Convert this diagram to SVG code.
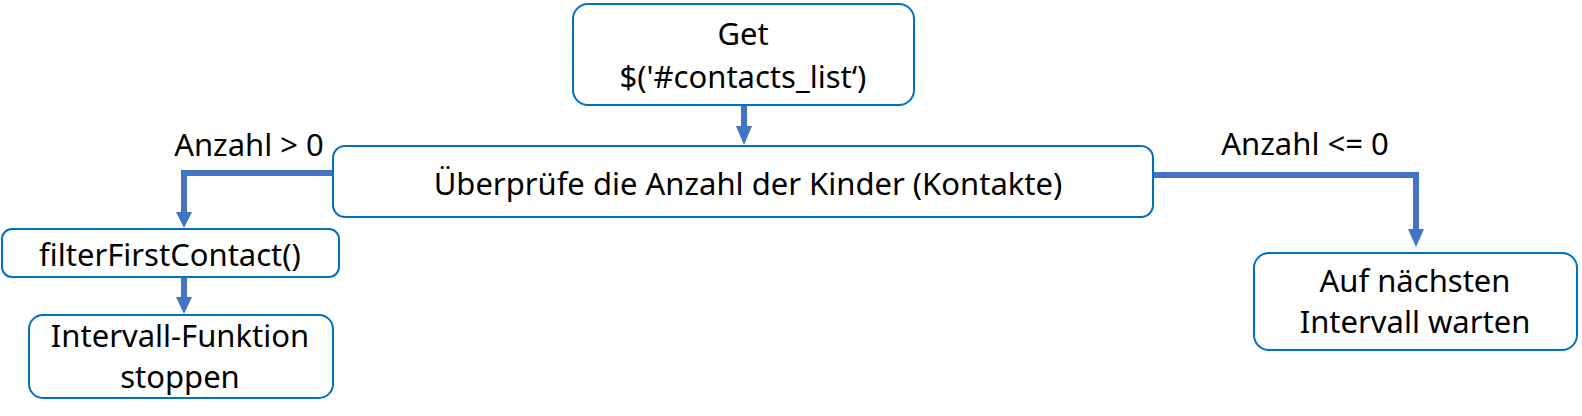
<svg xmlns="http://www.w3.org/2000/svg" width="1582" height="416" viewBox="0 0 1582 416">
<style>
.box{fill:#fff;stroke:#0070C0;stroke-width:2}
.t{font-family:"Noto Sans","Open Sans","DejaVu Sans",sans-serif;font-size:31px;fill:#000;text-anchor:middle}
.c{fill:none;stroke:#4472C4;stroke-width:6}
.h{fill:#4472C4}
</style>
<rect width="1582" height="416" fill="#fff"/>
<g id="connectors">
<path class="c" d="M744,105 V127"/>
<polygon class="h" points="736,126 752,126 744,145"/>
<path class="c" d="M333,173 H184 V213"/>
<polygon class="h" points="176,212 192,212 184,228"/>
<path class="c" d="M184,278 V298"/>
<polygon class="h" points="176,297 192,297 184,314"/>
<path class="c" d="M1153,175 H1416 V230"/>
<polygon class="h" points="1408,229 1424,229 1416,247"/>
<text class="t" x="249" y="156">Anzahl &gt; 0</text>
<text class="t" x="1305" y="155">Anzahl &lt;= 0</text>
</g>
<g id="n-get">
<rect class="box" x="573" y="4" width="341" height="101" rx="15"/>
<text class="t" x="743" y="45">Get</text>
<text class="t" x="743" y="88">$('#contacts_list‘)</text>
</g>
<g id="n-check">
<rect class="box" x="333" y="146" width="820" height="71" rx="12"/>
<text class="t" x="748" y="195">Überprüfe die Anzahl der Kinder (Kontakte)</text>
</g>
<g id="n-filter">
<rect class="box" x="2" y="229" width="337" height="48" rx="10"/>
<text class="t" x="170" y="266">filterFirstContact()</text>
</g>
<g id="n-stop">
<rect class="box" x="29" y="315" width="304" height="83" rx="14"/>
<text class="t" x="180" y="347">Intervall-Funktion</text>
<text class="t" x="180" y="388">stoppen</text>
</g>
<g id="n-wait">
<rect class="box" x="1254" y="253" width="323" height="97" rx="15"/>
<text class="t" x="1415" y="292">Auf nächsten</text>
<text class="t" x="1415" y="333">Intervall warten</text>
</g>
</svg>
